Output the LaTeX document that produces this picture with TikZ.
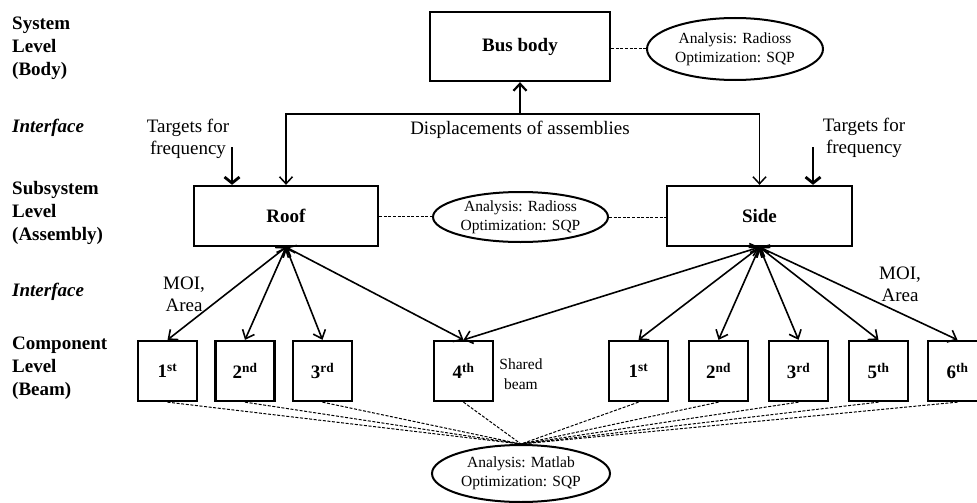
\documentclass[tikz,border=0pt]{standalone}
\usepackage{fontspec}
\setmainfont{Liberation Serif}
\usetikzlibrary{arrows.meta,shapes.geometric}
\begin{document}
\begin{tikzpicture}[x=1pt,y=-1pt,
  box/.style={draw,line width=2.3pt,inner sep=0pt,font=\fontsize{19}{23}\selectfont\bfseries},
  beam/.style={box,minimum width=59pt,minimum height=60pt},
  ell/.style={draw,ellipse,line width=2pt,inner sep=0pt,align=center,font=\fontsize{15.5}{19}\selectfont},
  lbl/.style={align=left,anchor=west,inner sep=0pt,font=\fontsize{19}{23}\selectfont\bfseries},
  txt/.style={align=center,inner sep=0pt,font=\fontsize{19}{22}\selectfont},
  stxt/.style={align=center,inner sep=0pt,font=\fontsize{15.5}{20}\selectfont},
  arr/.style={line width=1.5pt,-{Straight Barb[length=7pt,width=13pt,line width=1.5pt]}},
  uarr/.style={line width=2.2pt,-{Straight Barb[length=7pt,width=13pt,line width=2.2pt]}},
  darr/.style={line width=1.6pt,{Straight Barb[length=7.5pt,width=13pt,line width=1.6pt]}-{Straight Barb[length=7.5pt,width=13pt,line width=1.6pt]}},
  tarr/.style={line width=2.8pt,-{Straight Barb[length=6pt,width=15pt,line width=2.8pt]}},
  dline/.style={line width=1pt,dash pattern=on 3pt off 1.6pt},
]
\path[use as bounding box] (0,0) rectangle (977,503);
\clip (0,0) rectangle (977,503);

% left labels
\node[lbl] (l1) at (12,48.5) {System\\Level\\(Body)};
\node[lbl,font=\fontsize{19}{23}\selectfont\bfseries\itshape] (l2) at (12,128) {Interface};
\node[lbl] (l3) at (12,213) {Subsystem\\Level\\(Assembly)};
\node[lbl,font=\fontsize{19}{23}\selectfont\bfseries\itshape] (l4) at (12,292) {Interface};
\node[lbl] (l5) at (12,368) {Component\\Level\\(Beam)};

% system level
\node[box,minimum width=180pt,minimum height=69pt] (bus) at (520,46.5) {Bus body};
\node[ell,minimum width=176pt,minimum height=62pt] (tell) at (735,49) {Analysis: Radioss\\Optimization: SQP};
\draw[dline] (bus.east |- tell.west) -- (tell.west);

% subsystem level
\node[box,minimum width=184pt,minimum height=60pt] (roof) at (286,216) {Roof};
\node[box,minimum width=185pt,minimum height=60pt] (side) at (759.5,216) {Side};
\node[ell,minimum width=175pt,minimum height=50pt] (mell) at (520.5,217) {Analysis: Radioss\\Optimization: SQP};
\draw[dline] (roof.east) -- (roof.east -| mell.west);
\draw[dline] (mell.east) -- (mell.east -| side.west);

% displacements
\coordinate (j) at (520,114);
\draw[arr] (j) -| (roof.north);
\draw[arr] (j) -| (side.north);
\draw[uarr] (j) -- (bus.south);
\node[txt] (disp) at (520,130) {Displacements of assemblies};

% targets
\node[txt] (tgl) at (188,139) {Targets for\\frequency};
\node[txt] (tgr) at (864,138) {Targets for\\frequency};
\coordinate (tl) at (232,147);
\coordinate (tr) at (813,147);
\draw[tarr] (tl) -- (tl |- roof.north);
\draw[tarr] (tr) -- (tr |- side.north);

% MOI labels
\node[txt] (moil) at (184,294) {MOI,\\Area};
\node[txt] (moir) at (900,284) {MOI,\\Area};

% beams
\node[beam] (b1) at (167.5,371) {1\textsuperscript{st}};
\node[beam] (b2) at (245,371) {2\textsuperscript{nd}};
\node[beam] (b3) at (322.5,371) {3\textsuperscript{rd}};
\node[beam] (b4) at (463.5,371) {4\textsuperscript{th}};
\node[beam] (c1) at (638.5,371) {1\textsuperscript{st}};
\node[beam] (c2) at (718.5,371) {2\textsuperscript{nd}};
\node[beam] (c3) at (798.5,371) {3\textsuperscript{rd}};
\node[beam] (c5) at (878.5,371) {5\textsuperscript{th}};
\node[beam] (c6) at (957.5,371) {6\textsuperscript{th}};
\node[stxt] (shared) at (521,374) {Shared\\beam};

\foreach \b in {b1,b2,b3,b4} \draw[darr] (roof.south) -- (\b.north);
\foreach \b in {b4,c1,c2,c3,c5,c6} \draw[darr] (side.south) -- (\b.north);

% bottom ellipse
\node[ell,minimum width=178pt,minimum height=57pt] (bell) at (521,473.5) {Analysis: Matlab\\Optimization: SQP};
\foreach \b in {b1,b2,b3,b4,c1,c2,c3,c5,c6} \draw[dline] (\b.south) -- (bell.north);
\end{tikzpicture}
\end{document}
